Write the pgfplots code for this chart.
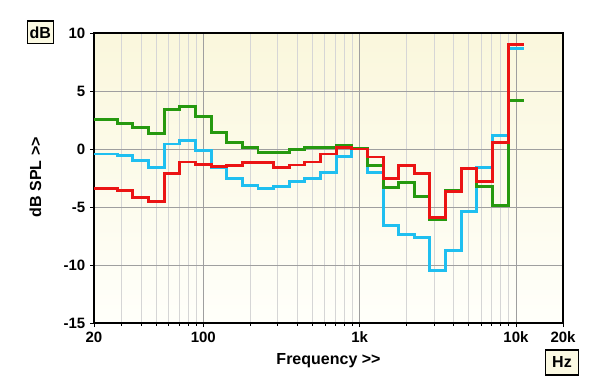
\documentclass[border=0pt]{standalone}
\usepackage{pgfplots}
\pgfplotsset{compat=1.18}
\usepackage{pgfplotstable}
\usepackage{fontspec}
\setmainfont{Liberation Sans}
\definecolor{cgreen}{RGB}{38,153,15}
\definecolor{ccyan}{RGB}{31,191,240}
\definecolor{cred}{RGB}{235,20,20}
\definecolor{bgtop}{RGB}{250,247,220}
\definecolor{bgbot}{RGB}{255,255,250}
\definecolor{boxfill}{RGB}{251,249,226}
\pgfplotstableread{
f g c r
20 2.52 -0.43 -3.44
28.18 2.23 -0.57 -3.58
35.48 1.89 -1.00 -4.15
44.67 1.32 -1.58 -4.50
56.23 3.38 0.43 -2.15
70.79 3.64 0.77 -1.12
89.13 2.81 -0.11 -1.35
112.2 1.40 -1.63 -1.49
141.3 0.57 -2.52 -1.40
177.8 0.09 -3.12 -1.20
223.9 -0.29 -3.44 -1.20
281.8 -0.29 -3.21 -1.58
354.8 -0.06 -2.84 -1.38
446.7 0.09 -2.52 -1.12
562.3 0.15 -2.00 -0.43
707.9 0.34 -0.63 0.09
891.3 0.05 0.00 0.00
1122 -1.40 -2.06 -0.69
1413 -3.35 -6.59 -2.58
1778 -2.92 -7.36 -1.43
2239 -4.13 -7.65 -2.12
2818 -6.10 -10.46 -5.87
3548 -3.58 -8.71 -3.70
4467 -1.72 -5.39 -1.72
5623 -3.21 -1.58 -2.78
7079 -4.87 1.17 0.60
8913 4.15 8.65 8.97
11220 4.15 8.65 8.97
}\data
\begin{document}
\begin{tikzpicture}
\path[use as bounding box] (-70.5pt,-48pt) rectangle (379.5pt,242.25pt);
\begin{axis}[
  name=ax, at={(0,0)}, anchor=south west,
  scale only axis, width=351.75pt, height=217.5pt,
  xmode=log, xmin=20, xmax=20000, ymin=-15, ymax=10,
  xtick={20,100,1000,10000,20000},
  xticklabels={20,100,1k,10k,20k},
  minor xtick={30,40,50,60,70,80,90,200,300,400,500,600,700,800,900,2000,3000,4000,5000,6000,7000,8000,9000},
  ytick={-15,-10,-5,0,5,10},
  yticklabels={-15,-10,-5,0,5,10},
  tick pos=left, tick align=outside,
  major tick length=3pt, minor tick length=2pt,
  tick style={black, line width=0.6pt},
  grid=both,
  major grid style={gray!75, line width=0.6pt},
  minor grid style={gray!32, line width=0.8pt},
  axis line style={black, line width=0.8pt},
  axis background/.style={top color=bgtop, bottom color=bgbot},
  tick label style={font=\bfseries\fontsize{11.25}{13}\selectfont},
  xlabel={Frequency >{}>}, ylabel={dB SPL >{}>},
  label style={font=\bfseries\fontsize{12}{14}\selectfont},
  xlabel style={at={(axis description cs:0.5,-0.1034)}, anchor=north, inner sep=0pt},
  ylabel style={at={(axis description cs:-0.1247,0.503)}, anchor=center, inner sep=0pt},
  clip=false,
]
\addplot[const plot, ccyan, line width=2.2pt] table[x=f, y=c] {\data};
\addplot[const plot, cgreen, line width=2.2pt] table[x=f, y=g] {\data};
\addplot[const plot, cred, line width=2.2pt] table[x=f, y=r] {\data};
\end{axis}
\draw[black, line width=1.6pt] (ax.south west) -- (ax.south east) -- (ax.north east);
\node[draw=black, line width=1.1pt, fill=boxfill, font=\bfseries\fontsize{12}{14}\selectfont, minimum width=19.5pt, minimum height=17pt, inner sep=1pt] at (-40.25pt,218pt) {dB};
\node[draw=black, line width=1.1pt, fill=boxfill, font=\bfseries\fontsize{12}{14}\selectfont, minimum width=24.5pt, minimum height=18.5pt, inner sep=1pt] at (351pt,-29.6pt) {Hz};
\end{tikzpicture}
\end{document}
